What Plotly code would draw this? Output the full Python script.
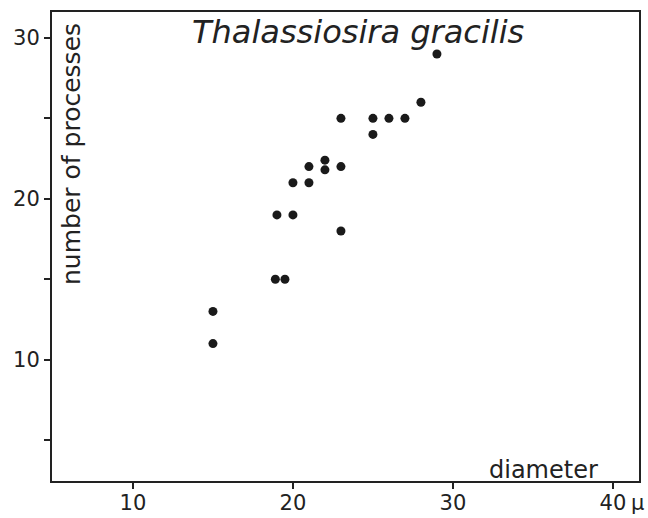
import plotly.graph_objects as go

# Data: diameter (µm) vs number of processes
diameter = [29, 28, 23, 25, 26, 27, 25, 22, 22, 21, 23, 20, 21, 19, 20, 23, 18.9, 19.5, 15, 15]
processes = [29, 26, 25, 25, 25, 25, 24, 22.4, 21.8, 22, 22, 21, 21, 19, 19, 18, 15, 15, 13, 11]

x_tickvals = [10, 20, 30, 40]
x_ticktext = ["10", "20", "30", "40"]
y_tickvals = [5, 10, 15, 20, 25, 30]
y_ticktext = ["", "10", "", "20", "", "30"]

title_text = "Thalassiosira gracilis"
ylabel_text = "number of processes"
xlabel_text = "diameter"
unit_text = "μ"

FONT = "DejaVu Sans"
INK = "#222222"

fig = go.Figure()
fig.add_trace(go.Scatter(
    x=diameter, y=processes, mode="markers",
    marker=dict(size=9, color="#1a1a1a", line=dict(width=0)),
    showlegend=False, hoverinfo="skip",
))

axis_common = dict(
    showgrid=False, zeroline=False, showline=True, linecolor=INK, linewidth=2,
    mirror=True, ticks="outside", ticklen=6, tickwidth=1.5, tickcolor=INK,
    tickfont=dict(family=FONT, size=21, color=INK), automargin=False,
)

fig.update_xaxes(range=[4.94, 41.63], tickmode="array", tickvals=x_tickvals,
                 ticktext=x_ticktext, ticklabelstandoff=-4, **axis_common)
fig.update_yaxes(range=[2.46, 31.61], tickmode="array", tickvals=y_tickvals,
                 ticktext=y_ticktext, **axis_common)

PB = 481  # plot bottom pixel
PH = PB - 12

fig.add_annotation(text=title_text, xref="paper", yref="paper",
                   x=(358 - 52) / 587, y=(PB - 32) / PH, xanchor="center", yanchor="middle",
                   showarrow=False,
                   font=dict(family=FONT, size=32, color=INK, style="italic"))
fig.add_annotation(text=ylabel_text, xref="paper", yref="paper",
                   x=(71 - 52) / 587, y=(PB - 154) / PH, xanchor="center", yanchor="middle",
                   textangle=-90, showarrow=False,
                   font=dict(family=FONT, size=25, color=INK))
fig.add_annotation(text=xlabel_text, xref="paper", yref="paper",
                   x=(600 - 52) / 587, y=(PB - 470) / PH, xanchor="right", yanchor="middle",
                   showarrow=False,
                   font=dict(family=FONT, size=24, color=INK))
fig.add_annotation(text=unit_text, xref="paper", yref="paper",
                   x=(629 - 52) / 587, y=-0.016, xanchor="left", yanchor="top",
                   showarrow=False,
                   font=dict(family=FONT, size=21, color=INK))

fig.update_layout(
    width=648, height=518,
    margin=dict(l=52, r=9, t=12, b=518 - PB),
    paper_bgcolor="white", plot_bgcolor="white",
)

fig.write_html("out.html")
